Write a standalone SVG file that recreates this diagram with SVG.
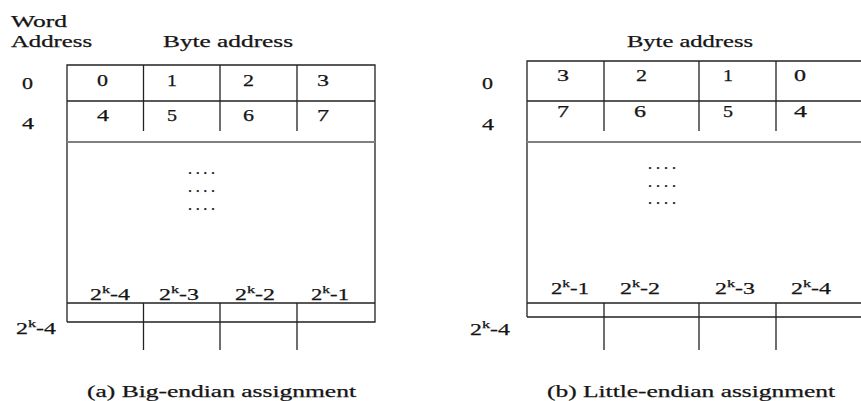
<svg xmlns="http://www.w3.org/2000/svg" width="861" height="401" viewBox="0 0 861 401">
<style>
text{font-family:"Liberation Serif","Times New Roman",serif;font-size:16px;fill:#151515;stroke:#151515;stroke-width:0.25}
.ln{stroke:#222;stroke-width:1.3;fill:none}
.gr{stroke:#808080;stroke-width:2;fill:none}
.sup{font-size:11px}
</style>
<rect width="861" height="401" fill="#fff"/>
<g id="big-endian">
<path class="ln" d="M67,322V65H375V322H67M67,101H375M67,303H375M143.5,65V131M220,65V131M297,65V131M143.5,303V350M220,303V350M297,303V350"/>
<path class="gr" d="M67,142H375"/>
<text x="11" y="27" textLength="56" lengthAdjust="spacingAndGlyphs">Word</text>
<text x="11" y="47" textLength="81" lengthAdjust="spacingAndGlyphs">Address</text>
<text x="163" y="47" textLength="130" lengthAdjust="spacingAndGlyphs">Byte address</text>
<text x="22" y="89" textLength="11" lengthAdjust="spacingAndGlyphs">0</text>
<text x="22" y="129" textLength="12" lengthAdjust="spacingAndGlyphs">4</text>
<text x="97" y="86" textLength="11" lengthAdjust="spacingAndGlyphs">0</text>
<text x="167" y="86" textLength="10" lengthAdjust="spacingAndGlyphs">1</text>
<text x="243" y="86" textLength="11" lengthAdjust="spacingAndGlyphs">2</text>
<text x="317" y="86" textLength="12" lengthAdjust="spacingAndGlyphs">3</text>
<text x="97" y="121" textLength="12" lengthAdjust="spacingAndGlyphs">4</text>
<text x="167" y="121" textLength="10" lengthAdjust="spacingAndGlyphs">5</text>
<text x="243" y="121" textLength="11" lengthAdjust="spacingAndGlyphs">6</text>
<text x="317" y="121" textLength="12" lengthAdjust="spacingAndGlyphs">7</text>
<text x="188" y="174" textLength="27" lengthAdjust="spacing">....</text>
<text x="188" y="192" textLength="27" lengthAdjust="spacing">....</text>
<text x="188" y="210" textLength="27" lengthAdjust="spacing">....</text>
<text x="90" y="300" textLength="40" lengthAdjust="spacingAndGlyphs">2<tspan class="sup" dy="-7">k</tspan><tspan dy="7">-4</tspan></text>
<text x="159" y="300" textLength="40" lengthAdjust="spacingAndGlyphs">2<tspan class="sup" dy="-7">k</tspan><tspan dy="7">-3</tspan></text>
<text x="235" y="300" textLength="40" lengthAdjust="spacingAndGlyphs">2<tspan class="sup" dy="-7">k</tspan><tspan dy="7">-2</tspan></text>
<text x="311" y="300" textLength="38" lengthAdjust="spacingAndGlyphs">2<tspan class="sup" dy="-7">k</tspan><tspan dy="7">-1</tspan></text>
<text x="16" y="334" textLength="40" lengthAdjust="spacingAndGlyphs">2<tspan class="sup" dy="-7">k</tspan><tspan dy="7">-4</tspan></text>
<text x="87" y="397" textLength="269" lengthAdjust="spacingAndGlyphs">(a) Big-endian assignment</text>
</g>
<g id="little-endian">
<path class="ln" d="M527,317V61H861M527,101H861M527,303H861M527,317H861M604,61V131M699,61V131M776,61V131M604,303V350M699,303V350M776,303V350"/>
<path class="gr" d="M527,142H861"/>
<text x="627" y="47" textLength="126" lengthAdjust="spacingAndGlyphs">Byte address</text>
<text x="482" y="89" textLength="11" lengthAdjust="spacingAndGlyphs">0</text>
<text x="482" y="130" textLength="12" lengthAdjust="spacingAndGlyphs">4</text>
<text x="557" y="81" textLength="12" lengthAdjust="spacingAndGlyphs">3</text>
<text x="636" y="81" textLength="11" lengthAdjust="spacingAndGlyphs">2</text>
<text x="723" y="81" textLength="10" lengthAdjust="spacingAndGlyphs">1</text>
<text x="794" y="81" textLength="12" lengthAdjust="spacingAndGlyphs">0</text>
<text x="557" y="117" textLength="12" lengthAdjust="spacingAndGlyphs">7</text>
<text x="634" y="117" textLength="12" lengthAdjust="spacingAndGlyphs">6</text>
<text x="723" y="117" textLength="10" lengthAdjust="spacingAndGlyphs">5</text>
<text x="794" y="117" textLength="13" lengthAdjust="spacingAndGlyphs">4</text>
<text x="648" y="169" textLength="28" lengthAdjust="spacing">....</text>
<text x="648" y="187" textLength="28" lengthAdjust="spacing">....</text>
<text x="648" y="204" textLength="28" lengthAdjust="spacing">....</text>
<text x="551" y="294" textLength="38" lengthAdjust="spacingAndGlyphs">2<tspan class="sup" dy="-7">k</tspan><tspan dy="7">-1</tspan></text>
<text x="620" y="294" textLength="40" lengthAdjust="spacingAndGlyphs">2<tspan class="sup" dy="-7">k</tspan><tspan dy="7">-2</tspan></text>
<text x="715" y="294" textLength="40" lengthAdjust="spacingAndGlyphs">2<tspan class="sup" dy="-7">k</tspan><tspan dy="7">-3</tspan></text>
<text x="791" y="294" textLength="40" lengthAdjust="spacingAndGlyphs">2<tspan class="sup" dy="-7">k</tspan><tspan dy="7">-4</tspan></text>
<text x="470" y="335" textLength="40" lengthAdjust="spacingAndGlyphs">2<tspan class="sup" dy="-7">k</tspan><tspan dy="7">-4</tspan></text>
<text x="547" y="397" textLength="288" lengthAdjust="spacingAndGlyphs">(b) Little-endian assignment</text>
</g>
</svg>
